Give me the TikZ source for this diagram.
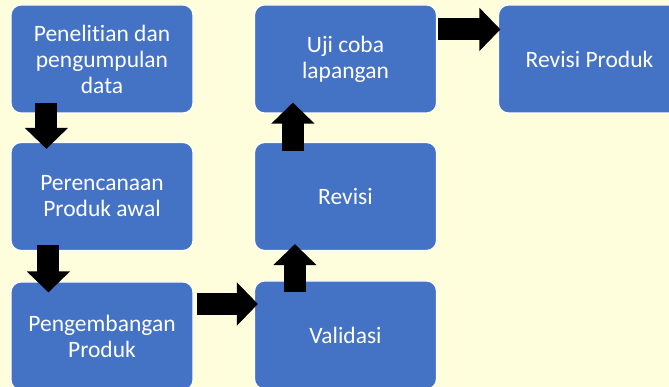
\documentclass[tikz,border=0pt]{standalone}
\usepackage{fontspec}
\setmainfont{Carlito}[Ligatures={NoCommon}]
\usetikzlibrary{arrows.meta}
\definecolor{kotakbiru}{HTML}{4472C4}
\definecolor{latar}{HTML}{FEFDDC}

\begin{document}
\begin{tikzpicture}[x=1pt,y=-1pt]
    \tikzstyle{kotak}=[rectangle,rounded corners=10pt,fill=kotakbiru,draw=white,line width=1.2pt,
        minimum width=182pt,minimum height=108pt,text=white,align=center,
        font=\fontsize{23.5}{26}\selectfont]
    \tikzstyle{panah}=[draw=black,line width=22pt,-{Triangle[length=21pt,width=42pt]}]

    \clip (0,0) rectangle (669,387);
    \fill[latar] (0,0) rectangle (669,387);

    % kolom kiri
    \node[kotak] (K-1) at (102,59) {Penelitian dan\\pengumpulan\\data};
    \node[kotak] (K-2) at (102,196.5) {Perencanaan\\Produk awal};
    \node[kotak] (K-3) at (102,336) {Pengembangan\\Produk};

    % kolom tengah
    \node[kotak] (K-4) at (345.5,335) {Validasi};
    \node[kotak] (K-5) at (345.5,196.5) {Revisi};
    \node[kotak] (K-6) at (345.5,59) {Uji coba\\lapangan};

    \node[kotak] (K-7) at (589.5,59) {Revisi Produk};

    \draw[panah] ([xshift=36pt,yshift=11pt]K-1.south west) -- ([xshift=36pt,yshift=-7pt]K-2.north west);
    \draw[panah] ([xshift=38pt,yshift=6pt]K-2.south west) -- ([xshift=38pt,yshift=-11pt]K-3.north west);
    \draw[panah] ([xshift=3pt,yshift=32pt]K-3.east) -- ([xshift=4pt,yshift=31pt]K-4.west);
    \draw[panah] ([xshift=41pt,yshift=-12pt]K-4.north west) -- ([xshift=41pt,yshift=7pt]K-5.south west);
    \draw[panah] ([xshift=39pt,yshift=-9pt]K-5.north west) -- ([xshift=39pt,yshift=11pt]K-6.south west);
    \draw[panah] ([xshift=1pt,yshift=-25pt]K-6.north east) -- ([xshift=2.5pt,yshift=-25pt]K-7.north west);
\end{tikzpicture}
\end{document}
